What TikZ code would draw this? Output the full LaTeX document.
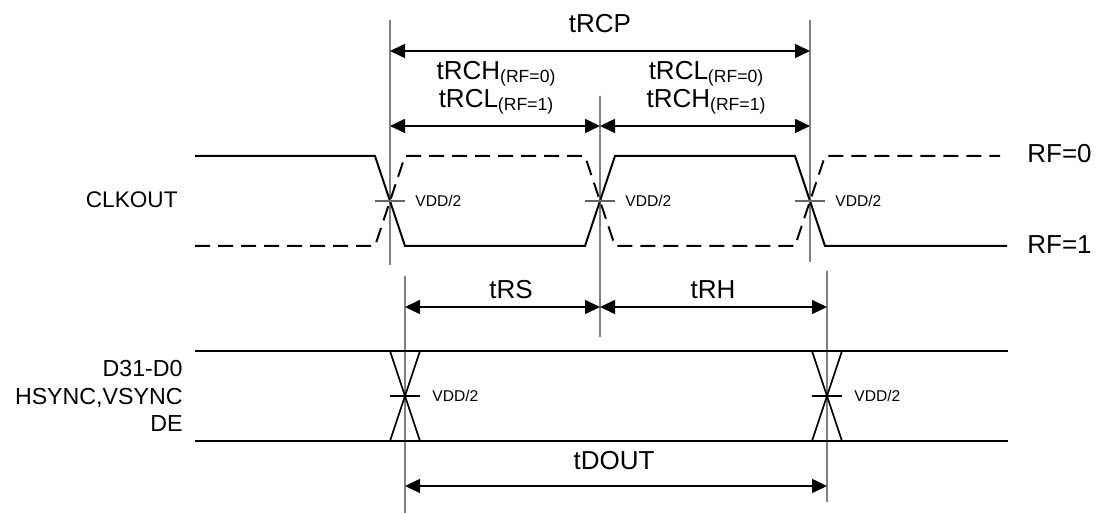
\documentclass[tikz,border=0pt]{standalone}
\usepackage{fontspec}
\setmainfont{Liberation Sans}
\usepackage{tikz}
\usetikzlibrary{arrows.meta}

\newcommand{\subrf}[1]{{\fontsize{8.8}{10}\selectfont\raisebox{-1.5pt}{(RF=#1)}}}

\begin{document}
\begin{tikzpicture}[
        x=0.5pt, y=-0.5pt,
        >={Triangle[length=7.5pt, width=7pt]},
        wave/.style={line width=1pt, black},
        dwave/.style={wave, dash pattern=on 7.5pt off 4pt},
        guide/.style={gray, line width=0.6pt},
        tick/.style={gray!80!black, line width=0.6pt},
        dim/.style={<->, line width=0.8pt},
        tlabel/.style={font=\fontsize{13}{15}\selectfont, inner sep=0pt},
        vdd/.style={font=\fontsize{7.8}{9}\selectfont, anchor=west, inner sep=0pt},
        rflabel/.style={font=\fontsize{13}{15}\selectfont, anchor=west, inner sep=0pt},
        signame/.style={font=\fontsize{11.6}{13.75}\selectfont, anchor=east, align=right, inner sep=0pt}
    ]
    \useasboundingbox (0,0) rectangle (1099,513);

    % --- Guide lines ---
    \coordinate (g1t) at (390,20);  \coordinate (g1b) at (390,265);
    \coordinate (g2t) at (600,96);  \coordinate (g2b) at (600,337);
    \coordinate (g3t) at (810,20);  \coordinate (g3b) at (810,262);
    \coordinate (g4t) at (405,276); \coordinate (g4b) at (405,513);
    \coordinate (g5t) at (827,271); \coordinate (g5b) at (827,502);
    \foreach \g in {g1,g2,g3,g4,g5}
        \draw[guide] (\g t) -- (\g b);

    % --- CLKOUT ---
    \node[signame, font=\fontsize{11.3}{13}\selectfont] (clkout) at (178,200) {CLKOUT};
    \draw[wave] (195,156) -- (375,156) -- (405,246) -- (585,246) -- (615,156)
        -- (795,156) -- (825,246) -- (1007,246);
    \draw[dwave] (195,246) -- (375,246) -- (405,156) -- (585,156) -- (615,246)
        -- (795,246) -- (825,156) -- (1000,156);
    \node[rflabel] (rf0) at (1027,154) {RF=0};
    \node[rflabel] (rf1) at (1027,245) {RF=1};
    \foreach \x/\n in {390/a, 600/b, 810/c} {
        \draw[tick] (\x-15,201) -- (\x+15,201);
        \node[vdd] (vclk\n) at (\x+25,201) {VDD/2};
    }

    % --- Data ---
    \node[signame] (data) at (183,396) {D31-D0\\HSYNC,VSYNC\\DE};
    \draw[wave] (195,351) -- (1008,351);
    \draw[wave] (195,441) -- (1008,441);
    \foreach \x/\n in {405/a, 827/b} {
        \draw[line width=0.8pt] (\x-15,351) -- (\x+15,441);
        \draw[line width=0.8pt] (\x+15,351) -- (\x-15,441);
        \draw[line width=0.6pt] (\x-15,396) -- (\x+15,396);
        \node[vdd] (vdat\n) at (\x+27,396) {VDD/2};
    }

    % --- Timing arrows ---
    \draw[dim] (g1t |- 0,51) -- (g3t |- 0,51);
    \draw[dim] (g1t |- 0,126) -- (g2t |- 0,126);
    \draw[dim] (g2t |- 0,126) -- (g3t |- 0,126);
    \draw[dim] (g4t |- 0,307) -- (g2t |- 0,307);
    \draw[dim] (g2t |- 0,307) -- (g5t |- 0,307);
    \draw[dim] (g4t |- 0,486) -- (g5t |- 0,486);

    \node[tlabel] (trcp) at (600,24) {tRCP};
    \node[tlabel] (trch0) at (496,74) {tRCH\subrf{0}};
    \node[tlabel] (trcl1) at (496,102) {tRCL\subrf{1}};
    \node[tlabel] (trcl0) at (706,74) {tRCL\subrf{0}};
    \node[tlabel] (trch1) at (706,102) {tRCH\subrf{1}};
    \node[tlabel] (trs) at (511,290) {tRS};
    \node[tlabel] (trh) at (713,290) {tRH};
    \node[tlabel] (tdout) at (614,461) {tDOUT};

\end{tikzpicture}
\end{document}
